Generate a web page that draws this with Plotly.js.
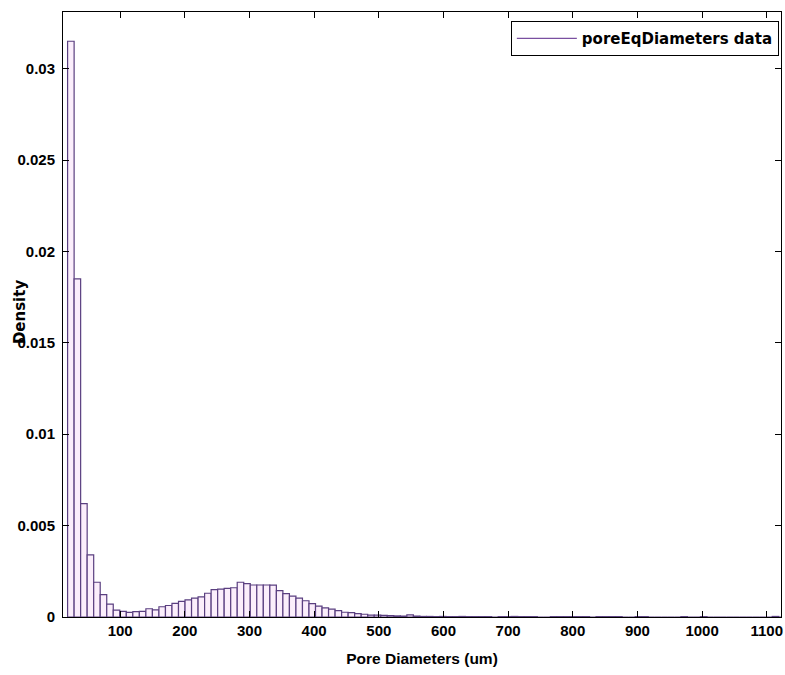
<!DOCTYPE html>
<html>
<head>
<meta charset="utf-8">
<script src="https://cdn.plot.ly/plotly-3.0.1.min.js"></script>
<style>html,body{margin:0;padding:0;background:#fff;}#chart{width:785px;height:675px;}</style>
</head>
<body>
<div id="chart"></div>
<script>
// Histogram of pore equivalent diameters (density)
const binStart = 18.7;     // left edge of first bin (um)
const binWidth = 10.09;    // bin width (um)
const density = [
  0.0315, 0.0185, 0.0062, 0.0034, 0.0019, 0.00122, 0.0007, 0.00038, 0.00031, 0.00025,
  0.00029, 0.00031, 0.00045, 0.00039, 0.00056, 0.00063, 0.00074, 0.00086, 0.00094, 0.00103,
  0.0011, 0.0013, 0.0015, 0.00152, 0.00157, 0.0016, 0.0019, 0.00183, 0.00175, 0.00175,
  0.00175, 0.00174, 0.00144, 0.00128, 0.00114, 0.00103, 0.00089, 0.00073, 0.0006, 0.0005,
  0.00043, 0.00035, 0.00026, 0.00024, 0.00019, 0.00015, 0.0001, 0.0001, 0.00009, 0.00008,
  0.00006, 0.00005, 0.00012, 0.00005, 0.00003, 0.00003, 0.00002, 0.00003, 0.00002, 0.00002,
  0.00003, 0.00002, 0.00002, 0.00002, 0.00002, 0, 0.00002, 0.00002, 0.00003, 0.00002,
  0.00002, 0.00002, 0, 0, 0.00002, 0.00002, 0.00002, 0.00002, 0.00002, 0.00002,
  0, 0.00002, 0.00002, 0.00002, 0.00002, 0, 0, 0.00002, 0.00002, 0,
  0, 0, 0, 0, 0.00002, 0, 0, 0.00002, 0, 0,
  0, 0, 0, 0, 0, 0, 0, 0, 0.00003, 0
];
const seriesName = "poreEqDiameters data";
const xTitle = "Pore Diameters (um)";
const yTitle = "Density";
const xRange = [11.6, 1122];
const yRange = [0, 0.0331];

const centers = density.map((_, i) => binStart + (i + 0.5) * binWidth);

const fontFam = "Liberation Sans, Arial, Helvetica, sans-serif";
const wideFam = "DejaVu Sans, Verdana, sans-serif";
const purple = "#5a3f80";

const traces = [
  {
    type: "bar",
    x: centers,
    y: density,
    width: binWidth,
    showlegend: false,
    marker: { color: "#fbeefb", line: { color: purple, width: 1.2 } },
    hoverinfo: "x+y"
  },
  {
    type: "scatter",
    mode: "lines",
    x: [null],
    y: [null],
    name: seriesName,
    line: { color: "#7a4fa0", width: 1.2 },
    showlegend: true
  }
];

const axisCommon = {
  showline: true,
  linecolor: "#000",
  linewidth: 1,
  mirror: "ticks",
  ticks: "inside",
  ticklen: 6,
  tickcolor: "#000",
  tickwidth: 1,
  showgrid: false,
  zeroline: false,
  tickfont: { family: fontFam, size: 15, color: "#000", weight: "bold" }
};

const layout = {
  width: 785,
  height: 675,
  margin: { l: 63, r: 4, t: 12, b: 58 },
  paper_bgcolor: "#fff",
  plot_bgcolor: "#fff",
  bargap: 0,
  xaxis: Object.assign({}, axisCommon, {
    range: xRange,
    tick0: 0,
    dtick: 100,
    title: { text: xTitle, font: { family: fontFam, size: 15.5, color: "#000", weight: "bold" }, standoff: 15 }
  }),
  yaxis: Object.assign({}, axisCommon, {
    range: yRange,
    tick0: 0,
    dtick: 0.005,
    ticklabelstandoff: 4
  }),
  legend: {
    x: 0.997, xanchor: "right",
    y: 0.985, yanchor: "top",
    bordercolor: "#000",
    borderwidth: 1,
    bgcolor: "#fff",
    itemwidth: 60,
    font: { family: wideFam, size: 15, color: "#000", weight: "bold" }
  },
  annotations: [
    {
      text: yTitle,
      xref: "paper", yref: "paper",
      x: -0.059, y: 0.505,
      xanchor: "center", yanchor: "middle",
      textangle: -90,
      showarrow: false,
      font: { family: wideFam, size: 15, color: "#000", weight: "bold" }
    }
  ]
};

Plotly.newPlot("chart", traces, layout, { displayModeBar: false, staticPlot: true });
</script>
</body>
</html>
